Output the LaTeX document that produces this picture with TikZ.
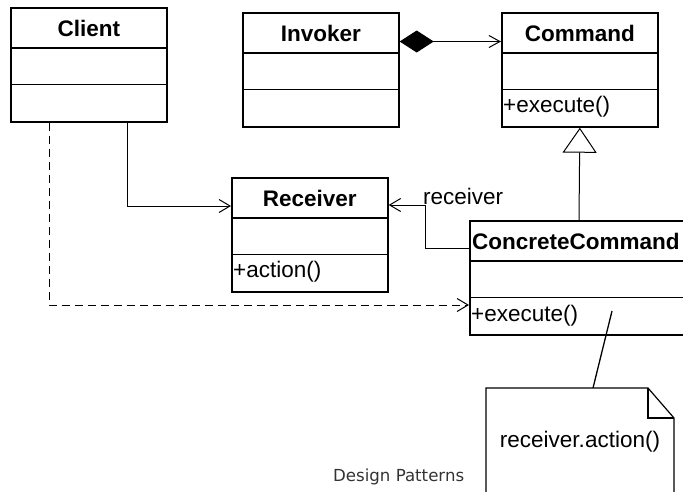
\documentclass[tikz,border=0pt]{standalone}
\usepackage{fontspec}
\setmainfont{Liberation Sans}
\newfontfamily\dpfont{DejaVu Sans}
\usetikzlibrary{arrows.meta,calc}
\tikzset{
  classbox/.style={draw, line width=1.7pt, anchor=north west, inner sep=0pt,
    minimum width=156pt, minimum height=114pt},
  sepline/.style={line width=1.7pt},
  classtitle/.style={font=\fontsize{22.5}{26}\selectfont\bfseries, inner sep=0pt},
  classop/.style={anchor=west, inner sep=1pt, font=\fontsize{22.5}{26}\selectfont},
  conn/.style={line width=1pt},
  barb/.style={-{Straight Barb[length=11pt,width=13pt]}},
  notebox/.style={draw=none, anchor=north west, minimum width=188pt, minimum height=130pt, inner sep=0pt},
}
\newcommand\umlclass[6]{%
  \node[classbox] (#1) at (#2,#3) {};
  \draw[sepline] ($(#1.north west)+(0,41)$) -- ($(#1.north east)+(0,41)$);
  \draw[sepline] ($(#1.north west)+(0,77.5)$) -- ($(#1.north east)+(0,77.5)$);
  \node[classtitle] (#1-t) at ($(#1.north)+(0,21)$) {#4};
  \node[classop] (#1-op) at ($(#1.north west)+(#5,95)$) {#6};
}
\begin{document}
\begin{tikzpicture}[x=1pt,y=-1pt]
\useasboundingbox (0,0) rectangle (683,491);
\clip (0,0) rectangle (683,491);

\umlclass{client}{10}{7}{Client}{1}{}
\umlclass{invoker}{242}{12}{Invoker}{1}{}
\umlclass{command}{501}{12}{Command}{1}{+execute()}
\umlclass{receiver}{231}{177}{Receiver}{1}{+action()}

% ConcreteCommand (extends past the right edge)
\node[classbox, minimum width=260pt] (cc) at (469,220) {};
\draw[sepline] ($(cc.north west)+(0,41)$) -- ($(cc.north east)+(0,41)$);
\draw[sepline] ($(cc.north west)+(0,77.5)$) -- ($(cc.north east)+(0,77.5)$);
\node[classtitle, anchor=west] (cc-t) at ($(cc.north west)+(3,21)$) {ConcreteCommand};
\node[classop] (cc-op) at ($(cc.north west)+(1,96)$) {+execute()};

% note
\node[notebox] (note) at (486,388) {};
\draw[line width=1.2pt] ($(note.north west)+(0,110)$) -- (note.north west)
  -- ($(note.north west)+(162,0)$) -- ($(note.north west)+(188,30)$)
  -- ($(note.north west)+(188,110)$);
\draw[line width=1.6pt] ($(note.north west)+(162,0)$) -- ($(note.north west)+(162,30)$)
  -- ($(note.north west)+(188,30)$);
\node[font=\fontsize{22.5}{26}\selectfont, inner sep=0pt] (note-t) at ($(note.north west)+(94,54)$) {receiver.action()};

% connectors
\draw[conn, {Diamond[length=34pt,width=22pt]}-{Straight Barb[length=11pt,width=12pt]}]
  ($(invoker.north east)+(0,29.5)$) -- ($(command.north west)+(0,29.5)$);
\draw[conn, barb] ($(client.south west)+(117,0)$) |- ($(receiver.north west)+(0,29)$);
\draw[conn, barb] ($(cc.north west)+(0,28)$) -- ++(-44,0) |- ($(receiver.north east)+(0,28)$);
\node[font=\fontsize{22.5}{26}\selectfont, anchor=west, inner sep=0pt] (rlabel) at (423,196) {receiver};
\draw[conn, -{Triangle[open, fill=white, length=25pt, width=34pt]}]
  ($(cc.north west)+(110,0)$) -- (command.south);
\draw[conn, barb, dash pattern=on 8pt off 5pt]
  ($(client.south west)+(39,0)$) |- ($(cc.north west)+(0,85)$);
\draw[conn, line width=1.3pt] ($(cc.north west)+(143,91)$) -- ($(note.north west)+(107,0)$);

\node[font=\dpfont\fontsize{16.6}{19}\selectfont, text=black!80, anchor=base west, inner sep=0pt]
  (caption) at (333,481) {Design Patterns};
\end{tikzpicture}
\end{document}
